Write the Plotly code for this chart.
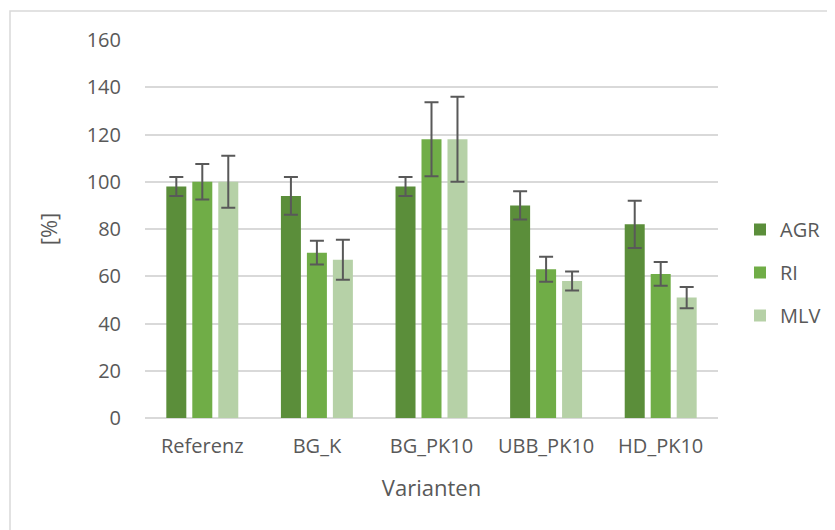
import plotly.graph_objects as go

categories = ["Referenz", "BG_K", "BG_PK10", "UBB_PK10", "HD_PK10"]
agr = [98, 94, 98, 90, 82]
agr_err = [4, 8, 4, 6, 10]
ri = [100, 70, 118, 63, 61]
ri_err = [7.5, 5, 15.7, 5.3, 5]
mlv = [100, 67, 118, 58, 51]
mlv_err = [11, 8.5, 18, 4, 4.5]
y_ticks = [0, 20, 40, 60, 80, 100, 120, 140, 160]

series = [("AGR", agr, agr_err, "#5B8E3A"),
          ("RI", ri, ri_err, "#70AD47"),
          ("MLV", mlv, mlv_err, "#B6D1A7")]

fig = go.Figure()
for name, vals, errs, col in series:
    fig.add_trace(go.Bar(
        x=categories, y=vals, name=name, legendgroup=name,
        marker=dict(color=col, line=dict(width=0)),
        error_y=dict(type="data", array=errs, visible=True,
                     color="#595959", thickness=2, width=7),
    ))

# page body has an 8px margin; coordinates below are figure coordinates
W, H = 835, 530
L, R, T, B = 137, 125, 32, 120
pw, ph = W - L - R, H - T - B

def px(x):
    return (x - L) / pw

def py(y):
    return (H - B - y) / ph

FONT = "Open Sans, Segoe UI, sans-serif"
fig.update_layout(
    width=W, height=H,
    margin=dict(l=L, r=R, t=T, b=B),
    paper_bgcolor="white", plot_bgcolor="white",
    font=dict(family=FONT, size=20, color="#595959"),
    barmode="group", bargap=0.32, bargroupgap=0.23,
    showlegend=True,
    legend=dict(x=px(732), y=py(202), xanchor="left", yanchor="top",
                font=dict(size=20, color="#595959"),
                tracegroupgap=14, itemwidth=30, bgcolor="rgba(0,0,0,0)"),
    xaxis=dict(title=dict(text="Varianten", font=dict(size=22, color="#595959"), standoff=22),
               showgrid=False, showline=False, ticks="", ticklabelstandoff=14,
               tickfont=dict(size=20)),
    yaxis=dict(title=dict(text="[%]", font=dict(size=22, color="#595959"), standoff=22),
               range=[0, 160], tickvals=y_ticks, showgrid=True, gridcolor="#D9D9D9",
               gridwidth=1.5, zeroline=True, zerolinecolor="#D9D9D9", zerolinewidth=1.5,
               showline=False, ticks="", ticklabelstandoff=23, tickfont=dict(size=20)),
    shapes=[dict(type="rect", xref="paper", yref="paper",
                 x0=px(2), x1=px(845), y0=py(540), y1=py(3),
                 line=dict(color="#D9D9D9", width=1.5), fillcolor="rgba(0,0,0,0)",
                 layer="below")],
)

fig.write_html("out.html")
